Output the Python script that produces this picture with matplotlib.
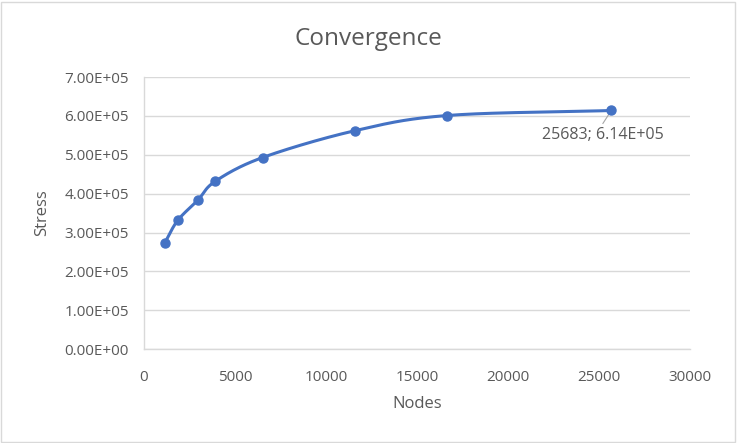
import numpy as np
import matplotlib
matplotlib.use("Agg")
import matplotlib.pyplot as plt
from matplotlib.patches import Rectangle
from matplotlib.ticker import FuncFormatter

# данные
nodes = [1150, 1850, 2970, 3920, 6520, 11590, 16630, 25683]
stress = [2.74e5, 3.31e5, 3.84e5, 4.32e5, 4.93e5, 5.62e5, 6.01e5, 6.14e5]

LINE = "#4472C4"
TEXT = "#595959"
GRID = "#D9D9D9"

plt.rcParams["font.family"] = ["Open Sans", "DejaVu Sans"]


def smooth(xs, ys, n=30):
    """Catmull-Rom сглаживание, похожее на 'smoothed line' в Excel."""
    xs = np.asarray(xs, float)
    ys = np.asarray(ys, float)
    px = np.concatenate([[2 * xs[0] - xs[1]], xs, [2 * xs[-1] - xs[-2]]])
    py = np.concatenate([[2 * ys[0] - ys[1]], ys, [2 * ys[-1] - ys[-2]]])
    out_x, out_y = [], []
    t = np.linspace(0, 1, n)
    for i in range(1, len(px) - 2):
        for p, out in ((px, out_x), (py, out_y)):
            p0, p1, p2, p3 = p[i - 1], p[i], p[i + 1], p[i + 2]
            out.extend(0.5 * ((2 * p1) + (-p0 + p2) * t
                              + (2 * p0 - 5 * p1 + 4 * p2 - p3) * t ** 2
                              + (-p0 + 3 * p1 - 3 * p2 + p3) * t ** 3))
    return np.array(out_x), np.array(out_y)


fig = plt.figure(figsize=(7.37, 4.43), dpi=100)
ax = fig.add_axes([0.1954, 0.212, 0.7406, 0.614])

sx, sy = smooth(nodes, stress)
ax.plot(sx, sy, color=LINE, lw=2.2, solid_capstyle="round", zorder=3)
ax.plot(nodes, stress, "o", color=LINE, ms=6.5, zorder=4)

ax.set_xlim(0, 30000)
ax.set_ylim(0, 7e5)
ax.set_xticks(range(0, 30001, 5000))
ax.set_yticks(np.arange(0, 7.01e5, 1e5))
ax.yaxis.set_major_formatter(FuncFormatter(lambda v, _: f"{v:.2E}"))
ax.grid(axis="y", color=GRID, lw=1)
ax.set_axisbelow(True)
ax.tick_params(length=0, labelsize=11, colors=TEXT)
ax.tick_params(axis="y", pad=11)
ax.tick_params(axis="x", pad=15)
for s in ("top", "right"):
    ax.spines[s].set_visible(False)
for s in ("left", "bottom"):
    ax.spines[s].set_color(GRID)
    ax.spines[s].set_linewidth(1)

ax.set_xlabel("Nodes", fontsize=12, color=TEXT, labelpad=8)
ax.set_ylabel("Stress", fontsize=12, color=TEXT, labelpad=10)
fig.text(0.5, 0.912, "Convergence", ha="center", va="center",
         fontsize=17.5, color=TEXT)

ax.annotate(f"{nodes[-1]}; {stress[-1]:.2E}",
            xy=(nodes[-1], stress[-1]), xytext=(-50, -18),
            textcoords="offset points", fontsize=11.5, color=TEXT,
            va="center", ha="left",
            arrowprops=dict(arrowstyle="-", color="#A6A6A6", lw=0.8,
                            shrinkA=1, shrinkB=3,
                            relpos=(0.48, 1.0)))

fig.patches.append(Rectangle((0.002, 0.003), 0.995, 0.993,
                             transform=fig.transFigure, fill=False,
                             edgecolor=GRID, lw=1))

fig.savefig("out.png", dpi=100)
